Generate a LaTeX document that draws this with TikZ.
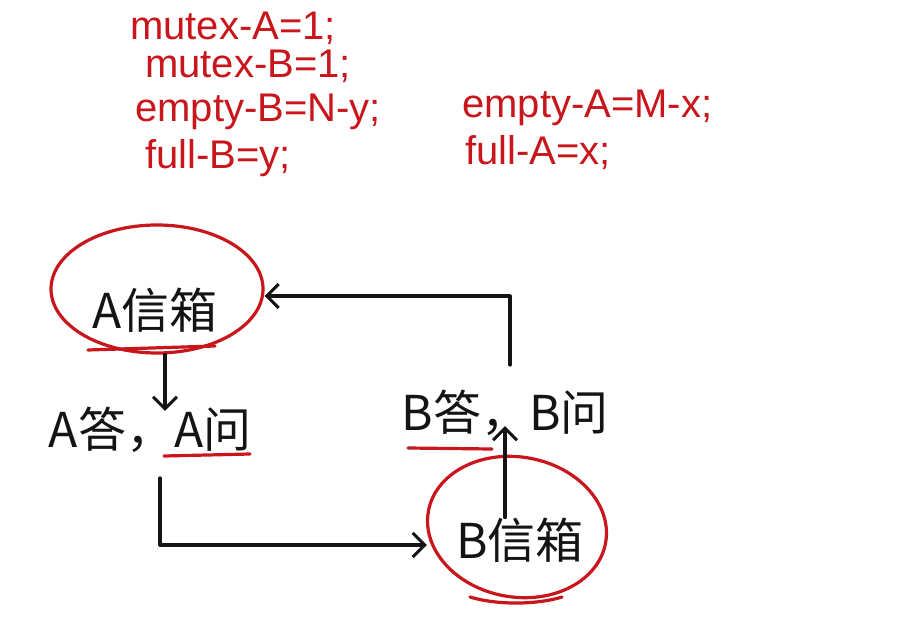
\documentclass[tikz,border=0pt]{standalone}
\usepackage{fontspec}
\setmainfont{Liberation Sans}
\newfontfamily\cjk{Noto Sans CJK SC}
\usetikzlibrary{arrows.meta,shapes.geometric}
\definecolor{pen}{RGB}{200,22,28}
\definecolor{ink}{RGB}{20,20,20}
\tikzset{
  redtxt/.style={text=pen, font=\fontsize{40}{42}\selectfont, anchor=west, inner sep=0},
  cjktxt/.style={text=ink, font=\cjk\fontsize{48}{50}\selectfont, inner sep=0},
  redring/.style={draw=pen, line width=3.2pt, ellipse, inner sep=0},
  redline/.style={draw=pen, line width=3.2pt, line cap=round},
  arr/.style={draw=ink, line width=3.2pt, line cap=round, line join=round, -{Straight Barb[length=12pt,width=24pt,line width=3pt]}}
}
\begin{document}
\begin{tikzpicture}[x=1pt,y=-1pt]
\useasboundingbox[fill=white] (0,0) rectangle (905,621);
% red code lines
\node[redtxt] (l1) at (130,28) {mutex-A=1;};
\node[redtxt] (l2) at (145,66) {mutex-B=1;};
\node[redtxt] (l3) at (135,112) {empty-B=N-y;};
\node[redtxt] (l4) at (145,158) {full-B=y;};
\node[redtxt] (r1) at (462,108) {empty-A=M-x;};
\node[redtxt] (r2) at (465,153) {full-A=x;};
% A mailbox
\node[redring, minimum width=212, minimum height=128] (aring) at (157,289) {};
\node[cjktxt] (abox) at (155,310) {A信箱};
\draw[redline] (88,350) -- (215,346);
% A answer / ask
\node[cjktxt] (aans) at (150,430) {A答，A问};
\draw[redline] (164,456) -- (250,454);
% B answer / ask
\node[cjktxt] (bans) at (505,413) {B答，B问};
\draw[redline] (408,448) -- (492,449);
% B mailbox
\node[redring, minimum width=180, minimum height=140, rotate=-10] (bring) at (517,527) {};
\node[cjktxt] (bbox) at (520,540) {B信箱};
\draw[redline] (470,597) .. controls (500,606) and (540,604) .. (562,597);
% connectors
\draw[arr] (aring.south -| 165,0) -- ([yshift=-4]aans.north -| 165,0);
\coordinate (c1) at (160,478);
\coordinate (c2) at (160,545);
\draw[arr] (c1) -- (c2) -- (bring.west |- c2);
\draw[arr] (bbox.north -| 505,0) -- ([yshift=10]bans.south -| 505,0);
\coordinate (c3) at (510,365);
\coordinate (c4) at (510,296);
\draw[arr] (c3) -- (c4) -- (aring.east |- c4);
\end{tikzpicture}
\end{document}
